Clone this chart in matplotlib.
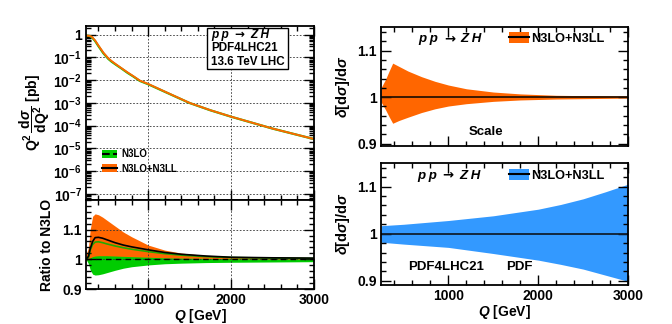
import numpy as np
import matplotlib
matplotlib.use('Agg')
import matplotlib.pyplot as plt
from matplotlib.patches import Patch, Rectangle
from matplotlib.lines import Line2D
from matplotlib.offsetbox import TextArea, HPacker, AnchoredOffsetbox
from matplotlib.ticker import MultipleLocator, FixedLocator, LogLocator, NullFormatter, FuncFormatter

plt.rcParams['font.family'] = ['Liberation Sans', 'DejaVu Sans']
plt.rcParams['font.weight'] = 'bold'
plt.rcParams['axes.labelweight'] = 'bold'
plt.rcParams['mathtext.fontset'] = 'custom'
plt.rcParams['mathtext.rm'] = 'Liberation Sans:bold'
plt.rcParams['mathtext.it'] = 'Liberation Sans:italic:bold'
plt.rcParams['mathtext.bf'] = 'Liberation Sans:bold'

ORANGE = '#ff6600'
GREEN = '#00cc00'
BLUE = '#3399ff'

# invariant mass distribution Q^2 dsigma/dQ^2 [pb]
q_dist = [250, 290, 320, 360, 400, 460, 520, 560, 620, 680, 750, 820, 900, 1000, 1250, 1500,
          1750, 2000, 2500, 3000]
n3ll_dist = [0.9, 0.88, 0.8, 0.55, 0.33, 0.16, 0.09, 0.068, 0.047, 0.033, 0.022, 0.015, 0.0095,
             0.0068, 0.0026, 0.001, 4.8e-4, 2.5e-4, 7.5e-5, 2.6e-5]
n3lo_dist = [0.9, 0.87, 0.77, 0.52, 0.31, 0.15, 0.085, 0.064, 0.045, 0.032, 0.021, 0.0145, 0.0092,
             0.0066, 0.00255, 0.00099, 4.75e-4, 2.48e-4, 7.47e-5, 2.59e-5]

# ratio to N3LO
q_ratio = [250, 280, 300, 330, 360, 400, 450, 500, 600, 700, 800, 1000, 1200, 1400, 1700, 2000, 2500, 3000]
n3ll_hi = [1.015, 1.04, 1.10, 1.145, 1.153, 1.150, 1.142, 1.132, 1.112, 1.092, 1.076, 1.048,
           1.031, 1.021, 1.013, 1.009, 1.007, 1.006]
n3ll_lo = [0.998, 1.0, 1.005, 1.009, 1.011, 1.012, 1.012, 1.012, 1.011, 1.010, 1.009, 1.007,
           1.005, 1.004, 1.003, 1.002, 1.001, 1.001]
n3ll_mid = [1.0, 1.01, 1.035, 1.06, 1.073, 1.074, 1.071, 1.066, 1.056, 1.048, 1.042, 1.032,
            1.023, 1.017, 1.011, 1.007, 1.005, 1.004]
n3lo_hi = [1.0, 1.005, 1.03, 1.05, 1.058, 1.059, 1.056, 1.052, 1.045, 1.039, 1.034, 1.026,
           1.019, 1.014, 1.009, 1.006, 1.004, 1.003]
n3lo_lo = [1.0, 0.985, 0.965, 0.95, 0.947, 0.948, 0.951, 0.955, 0.963, 0.970, 0.975, 0.981,
           0.985, 0.987, 0.989, 0.990, 0.991, 0.992]

# relative scale uncertainty
q_scale = [250, 300, 340, 380, 450, 550, 700, 850, 1000, 1200, 1500, 1800, 2200, 2600, 3000]
scale_hi = [1.02, 1.038, 1.056, 1.073, 1.066, 1.056, 1.044, 1.034, 1.026, 1.018, 1.011, 1.007,
            1.004, 1.003, 1.002]
scale_lo = [0.99, 0.973, 0.958, 0.944, 0.950, 0.957, 0.967, 0.975, 0.981, 0.986, 0.991, 0.994,
            0.996, 0.997, 0.998]

# relative PDF uncertainty
q_pdf = [250, 500, 1000, 1500, 2000, 2250, 2500, 2750, 3000]
pdf_hi = [1.017, 1.020, 1.028, 1.038, 1.052, 1.062, 1.074, 1.089, 1.105]
pdf_lo = [0.982, 0.978, 0.971, 0.958, 0.944, 0.935, 0.925, 0.912, 0.899]

XMIN, XMAX = 250, 3000
FS = 10


def frame(ax):
    ax.tick_params(which='both', direction='in', top=True, right=True, width=1.0,
                   labelsize=FS, pad=3)
    ax.tick_params(which='major', length=7)
    ax.tick_params(which='minor', length=3.5)
    for s in ax.spines.values():
        s.set_linewidth(1.3)
    ax.set_xlim(XMIN, XMAX)
    ax.xaxis.set_major_locator(FixedLocator([1000, 2000, 3000]))
    ax.xaxis.set_minor_locator(MultipleLocator(200))


def ratio_ticks(ax):
    ax.yaxis.set_major_locator(FixedLocator([0.9, 1.0, 1.1]))
    ax.yaxis.set_minor_locator(MultipleLocator(0.02))
    ax.yaxis.set_major_formatter(FuncFormatter(lambda v, p: '1' if abs(v - 1) < 1e-6 else f'{v:.1f}'))


def band_handle(color, ls='-'):
    return (Patch(facecolor=color, edgecolor='none'), Line2D([], [], color='black', lw=1.5, ls=ls))


def process_label(ax, x, y, size, loc='center'):
    # "p p -> Z H" with italic particles and a full-size arrow
    it = dict(style='italic', size=size, weight='bold')
    parts = [TextArea('p p', textprops=it),
             TextArea('→', textprops=dict(family='DejaVu Sans', size=size, weight='bold')),
             TextArea('Z H', textprops=it)]
    box = HPacker(children=parts, align='baseline', pad=0, sep=4)
    ab = AnchoredOffsetbox(loc=loc, child=box, bbox_to_anchor=(x, y), bbox_transform=ax.transAxes,
                           frameon=False, pad=0, borderpad=0)
    ab.set_zorder(6)
    ax.add_artist(ab)


fig = plt.figure(figsize=(6.72, 3.24), dpi=100)
ax1 = fig.add_axes([0.128, 0.383, 0.339, 0.537])
ax2 = fig.add_axes([0.128, 0.108, 0.339, 0.275])
ax3 = fig.add_axes([0.567, 0.549, 0.3676, 0.367])
ax4 = fig.add_axes([0.567, 0.120, 0.3676, 0.377])

grid_kw = dict(ls=(0, (2, 2)), color='#333333', lw=0.6)

# top left: distribution
ax1.plot(q_dist, n3lo_dist, color=GREEN, lw=1.6)
ax1.plot(q_dist, n3ll_dist, color=ORANGE, lw=1.4)
ax1.set_yscale('log')
ax1.set_ylim(5.5e-8, 2.4)
frame(ax1)
ax1.yaxis.set_major_locator(LogLocator(base=10, numticks=20))
ax1.yaxis.set_minor_locator(LogLocator(base=10, subs=np.arange(2, 10), numticks=100))
ax1.yaxis.set_minor_formatter(NullFormatter())
ax1.yaxis.set_major_formatter(FuncFormatter(
    lambda v, p: '1' if abs(v - 1) < 1e-9 else r'$\mathrm{10^{%d}}$' % round(np.log10(v))))
ax1.tick_params(axis='x', labelbottom=False)
ax1.grid(True, which='major', **grid_kw)
ax1.set_ylabel(r'$\mathrm{Q^2}\,\dfrac{\mathrm{d}\sigma}{\mathrm{dQ^2}}$ [pb]', fontsize=10, labelpad=1)

# info box
ax1.add_patch(Rectangle((0.532, 0.755), 0.353, 0.235, transform=ax1.transAxes,
                        facecolor='white', edgecolor='black', lw=1.0, zorder=5))
process_label(ax1, 0.55, 0.95, 8.6, loc='center left')
for yy, line in zip([0.875, 0.795], ['PDF4LHC21', '13.6 TeV LHC']):
    ax1.text(0.55, yy, line, transform=ax1.transAxes, fontsize=8.4, va='center', ha='left', zorder=6)

ax1.legend([band_handle(GREEN, '--'), band_handle(ORANGE)], ['N3LO', 'N3LO+N3LL'],
           loc='lower left', bbox_to_anchor=(0.07, 0.15), frameon=False,
           prop={'size': 7, 'weight': 'bold'},
           handlelength=1.5, handleheight=0.9, handletextpad=0.5, labelspacing=0.45,
           borderpad=0, borderaxespad=0)

# bottom left: ratio to N3LO
ax2.fill_between(q_ratio, n3lo_lo, n3lo_hi, color=GREEN, lw=0)
ax2.fill_between(q_ratio, n3ll_lo, n3ll_hi, color=ORANGE, lw=0)
ax2.plot(q_ratio, n3lo_hi, color='#22aa00', lw=1.2)
ax2.plot(q_ratio, n3ll_mid, color='black', lw=1.2)
ax2.axhline(1.0, color='black', lw=1.0, ls=(0, (4, 3)))
ax2.set_ylim(0.9, 1.2)
frame(ax2)
ratio_ticks(ax2)
ax2.grid(True, which='major', **grid_kw)
ax2.set_ylabel('Ratio to N3LO', fontsize=10, labelpad=6)
ax2.set_xlabel(r'$Q$ [GeV]', fontsize=FS, labelpad=0)

# top right: scale uncertainty
ax3.fill_between(q_scale, scale_lo, scale_hi, color=ORANGE, lw=0)
ax3.axhline(1.0, color='#2a1200', lw=1.3)
ax3.set_ylim(0.895, 1.15)
frame(ax3)
ratio_ticks(ax3)
ax3.tick_params(axis='x', labelbottom=False)
ax3.set_ylabel(r'$\delta$[d$\sigma$]/d$\sigma$', fontsize=10.5, labelpad=4)
process_label(ax3, 0.28, 0.905, 9.5)
ax3.text(0.425, 0.118, 'Scale', transform=ax3.transAxes, fontsize=9.5, ha='center', va='center')
ax3.legend([band_handle(ORANGE)], ['N3LO+N3LL'], loc='center left', bbox_to_anchor=(0.52, 0.905),
           frameon=False, prop={'size': 9.2, 'weight': 'bold'}, handlelength=1.5, handleheight=1.0,
           handletextpad=0.2, borderpad=0, borderaxespad=0)

# bottom right: PDF uncertainty
ax4.fill_between(q_pdf, pdf_lo, pdf_hi, color=BLUE, lw=0)
ax4.axhline(1.0, color='#102030', lw=1.3)
ax4.set_ylim(0.891, 1.15)
frame(ax4)
ratio_ticks(ax4)
ax4.set_ylabel(r'$\delta$[d$\sigma$]/d$\sigma$', fontsize=10.5, labelpad=4)
ax4.set_xlabel(r'$Q$ [GeV]', fontsize=FS, labelpad=0)
process_label(ax4, 0.275, 0.90, 9.5)
ax4.text(0.262, 0.15, 'PDF4LHC21', transform=ax4.transAxes, fontsize=9.5, ha='center', va='center')
ax4.text(0.559, 0.15, 'PDF', transform=ax4.transAxes, fontsize=9.5, ha='center', va='center')
ax4.legend([band_handle(BLUE)], ['N3LO+N3LL'], loc='center left', bbox_to_anchor=(0.52, 0.90),
           frameon=False, prop={'size': 9.2, 'weight': 'bold'}, handlelength=1.5, handleheight=1.0,
           handletextpad=0.2, borderpad=0, borderaxespad=0)

fig.savefig('out.png', dpi=100)
plt.close(fig)
